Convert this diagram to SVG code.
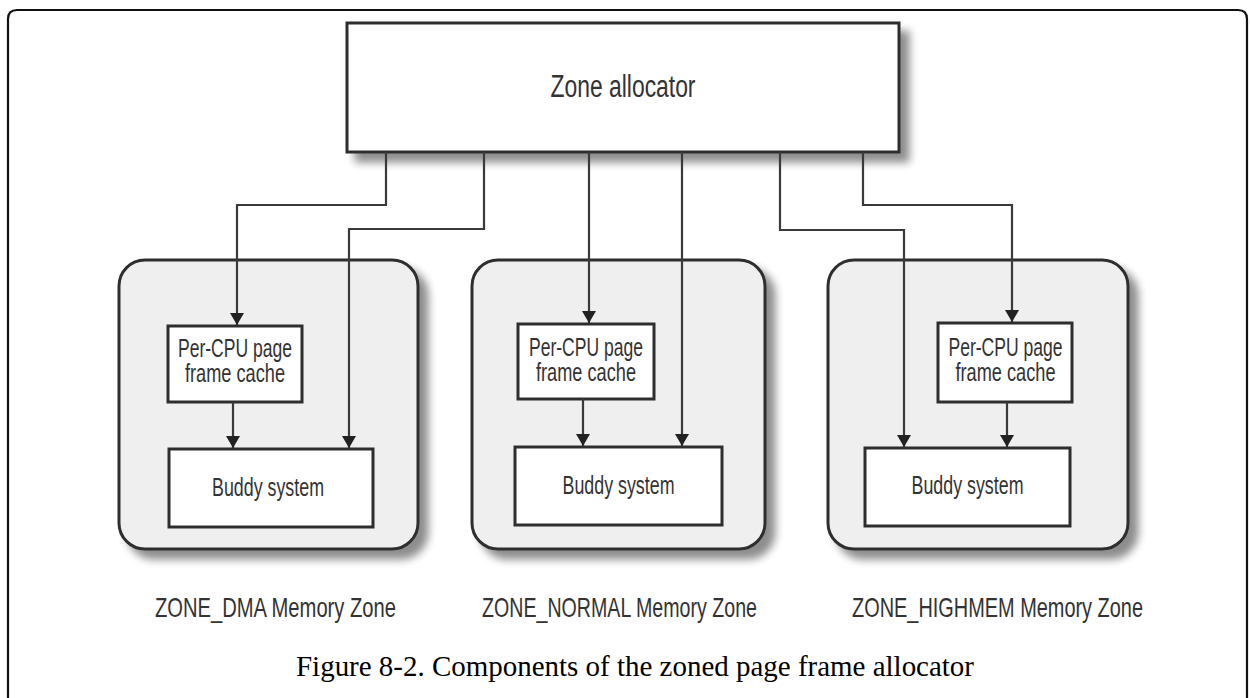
<svg xmlns="http://www.w3.org/2000/svg" width="1250" height="698" viewBox="0 0 1250 698">
<style>
.frame{fill:none;stroke:#111;stroke-width:2.2}
.zone{fill:#efefef;stroke:#2e2e2e;stroke-width:3}
.box{fill:#fff;stroke:#2e2e2e;stroke-width:3}
.conn{fill:none;stroke:#3a3a3a;stroke-width:2.2}
.t{font-family:"Liberation Sans",Arial,sans-serif;fill:#333;text-anchor:middle}
.cap{font-family:"Liberation Serif","Times New Roman",serif;fill:#000;text-anchor:middle;font-size:30px}
</style>
<defs>
<filter id="sh" x="-10%" y="-10%" width="130%" height="140%">
<feGaussianBlur in="SourceAlpha" stdDeviation="4"/>
<feOffset dx="9" dy="9" result="b"/>
<feComponentTransfer><feFuncA type="linear" slope="0.45"/></feComponentTransfer>
<feMerge><feMergeNode/><feMergeNode in="SourceGraphic"/></feMerge>
</filter>
<marker id="ah" viewBox="0 0 12 14" refX="12" refY="7" markerWidth="12" markerHeight="14" markerUnits="userSpaceOnUse" orient="auto">
<path d="M0,0 L12,7 L0,14 Z" fill="#222"/>
</marker>
</defs>
<rect width="1250" height="698" fill="#fff"/>
<path class="frame" d="M8,698 V19 Q8,10 17,10 H1238 Q1247,10 1247,19 V698"/>

<g id="zone-dma">
<rect class="zone" x="119" y="260" width="299" height="289" rx="26" filter="url(#sh)"/>
</g>
<g id="zone-normal">
<rect class="zone" x="472" y="260" width="293" height="289" rx="26" filter="url(#sh)"/>
</g>
<g id="zone-highmem">
<rect class="zone" x="828" y="260" width="300" height="289" rx="26" filter="url(#sh)"/>
</g>

<g id="zone-allocator">
<rect class="box" x="347" y="23" width="552" height="129" filter="url(#sh)"/>
<text class="t" x="623" y="97" font-size="31" textLength="145" lengthAdjust="spacingAndGlyphs">Zone allocator</text>
</g>

<g id="percpu-dma">
<rect class="box" x="168" y="326" width="134" height="76"/>
<text class="t" x="235" y="357" font-size="25" textLength="114" lengthAdjust="spacingAndGlyphs">Per-CPU page</text>
<text class="t" x="235" y="382" font-size="25" textLength="100" lengthAdjust="spacingAndGlyphs">frame cache</text>
</g>
<g id="buddy-dma">
<rect class="box" x="169" y="449" width="204" height="78"/>
<text class="t" x="268" y="496" font-size="25" textLength="112" lengthAdjust="spacingAndGlyphs">Buddy system</text>
</g>

<g id="percpu-normal">
<rect class="box" x="518" y="324" width="136" height="75"/>
<text class="t" x="586" y="356" font-size="25" textLength="114" lengthAdjust="spacingAndGlyphs">Per-CPU page</text>
<text class="t" x="586" y="381" font-size="25" textLength="100" lengthAdjust="spacingAndGlyphs">frame cache</text>
</g>
<g id="buddy-normal">
<rect class="box" x="515" y="447" width="207" height="78"/>
<text class="t" x="618.5" y="494" font-size="25" textLength="112" lengthAdjust="spacingAndGlyphs">Buddy system</text>
</g>

<g id="percpu-highmem">
<rect class="box" x="938" y="323" width="134" height="79"/>
<text class="t" x="1005.5" y="356" font-size="25" textLength="114" lengthAdjust="spacingAndGlyphs">Per-CPU page</text>
<text class="t" x="1005.5" y="381" font-size="25" textLength="100" lengthAdjust="spacingAndGlyphs">frame cache</text>
</g>
<g id="buddy-highmem">
<rect class="box" x="865" y="448" width="205" height="78"/>
<text class="t" x="967.5" y="494" font-size="25" textLength="112" lengthAdjust="spacingAndGlyphs">Buddy system</text>
</g>

<g id="connectors">
<path class="conn" d="M386,152 V205 H237 V325" marker-end="url(#ah)"/>
<path class="conn" d="M484,152 V229 H349 V448" marker-end="url(#ah)"/>
<path class="conn" d="M589,152 V323" marker-end="url(#ah)"/>
<path class="conn" d="M682,152 V446" marker-end="url(#ah)"/>
<path class="conn" d="M780,152 V230 H904 V447" marker-end="url(#ah)"/>
<path class="conn" d="M863,152 V205 H1012 V322" marker-end="url(#ah)"/>
<path class="conn" d="M233,402 V448" marker-end="url(#ah)"/>
<path class="conn" d="M583,399 V446" marker-end="url(#ah)"/>
<path class="conn" d="M1007,402 V447" marker-end="url(#ah)"/>
</g>

<g id="labels">
<text class="t" x="275.5" y="617" font-size="28" textLength="241" lengthAdjust="spacingAndGlyphs">ZONE_DMA Memory Zone</text>
<text class="t" x="619.5" y="617" font-size="28" textLength="275" lengthAdjust="spacingAndGlyphs">ZONE_NORMAL Memory Zone</text>
<text class="t" x="997.5" y="617" font-size="28" textLength="291" lengthAdjust="spacingAndGlyphs">ZONE_HIGHMEM Memory Zone</text>
<text class="cap" x="635" y="676" textLength="678" lengthAdjust="spacingAndGlyphs">Figure 8-2. Components of the zoned page frame allocator</text>
</g>
</svg>
